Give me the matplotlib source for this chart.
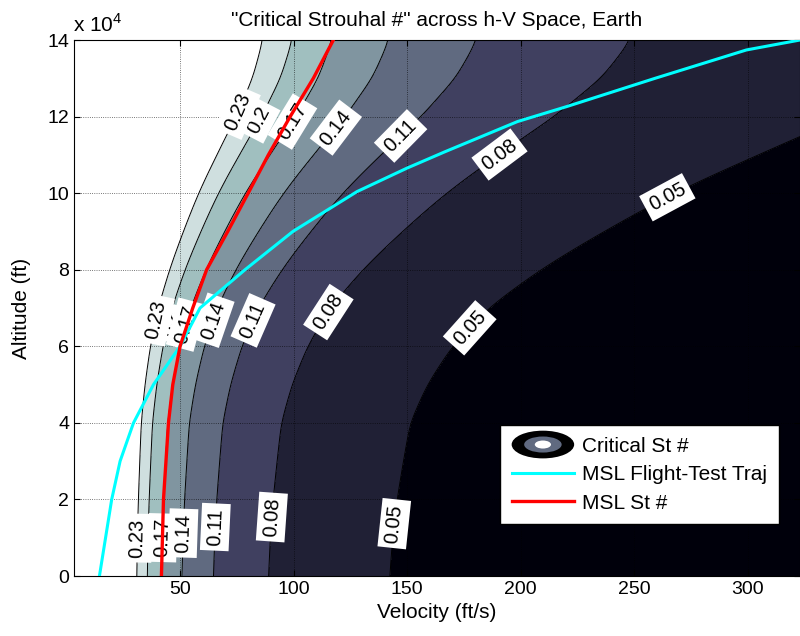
import numpy as np
import matplotlib
matplotlib.use('Agg')
import matplotlib.pyplot as plt
from matplotlib.patches import Ellipse
from matplotlib.legend_handler import HandlerBase
from matplotlib.lines import Line2D

plt.rcParams['font.family'] = ['Liberation Sans', 'DejaVu Sans']
plt.rcParams['mathtext.fontset'] = 'custom'
plt.rcParams['mathtext.rm'] = 'Liberation Sans'

# Critical St # scales as k(h) / V; k read at each altitude
alt_knots = [0, 10000, 20000, 30000, 40000, 50000, 60000, 70000, 80000,
             90000, 100000, 110000, 120000, 130000, 140000]
st_times_v = [7.12, 7.18, 7.28, 7.42, 7.57, 7.95, 8.5, 9.3, 10.45,
              11.85, 13.4, 15.25, 17.2, 18.85, 19.9]

st_levels = [0.05, 0.08, 0.11, 0.14, 0.17, 0.20, 0.23]
# bone colormap, 8 bands
band_colors = ['#00000b', '#202035', '#404060', '#606a80', '#8095a0',
               '#a0bfbf', '#cfdfdf', '#ffffff']

# MSL flight-test trajectory (velocity ft/s, altitude ft)
traj_v = [14.5, 19.9, 23.6, 29.5, 38.3, 50.0, 58.8, 78.6, 99.7, 127.9, 149.8,
          166.6, 198.6, 220.2, 259.2, 299.4, 323.0, 340.0]
traj_h = [0, 20000, 30000, 40000, 50000, 60000, 70000, 80000, 90000, 100400,
          106500, 110800, 118700, 122600, 130000, 137400, 140000, 142500]

# MSL Strouhal number curve
msl_v = [41.8, 42.7, 44.9, 46.8, 50.0, 55.6, 61.7, 71.0, 80.0, 88.9, 98.5,
         108.7, 117.5]
msl_h = [0, 20000, 40000, 50000, 60000, 70000, 80000, 90000, 100000, 110000,
         120000, 130000, 140000]

# contour label anchor points (velocity, altitude)
label_pos = [
    (76.5, 121000), (39.7, 66900), (31.7, 9900),      # 0.23
    (86.2, 118600), (46.0, 66100), (37.0, 9400),      # 0.2
    (100.6, 118300), (53.1, 65600), (42.0, 10000),    # 0.17
    (118.2, 117300), (64.1, 66900), (51.5, 11200),    # 0.14
    (149.0, 113900), (81.6, 66900), (65.4, 12800),    # 0.11
    (190.8, 110000), (116.0, 68700), (90.4, 15400),   # 0.08
    (264.8, 98700), (178.6, 64300), (142.4, 13800),   # 0.05
]

vv = np.linspace(2, 345, 500)
hh = np.linspace(0, 142000, 300)

# k(h) on the fine altitude grid, lightly smoothed to round off the knots
log_k = np.interp(hh, alt_knots, np.log(st_times_v))
kern = np.exp(-0.5 * (np.arange(-15, 16) / 5.0) ** 2)
kern /= kern.sum()
log_k = np.convolve(np.pad(log_k, 15, mode='reflect', reflect_type='odd'),
                    kern, mode='valid')

V, H = np.meshgrid(vv, hh)
ST = np.exp(log_k)[:, None] / V

fig = plt.figure(figsize=(8, 6.36), dpi=100)
ax = fig.add_axes([0.0925, 0.0943, 0.9075, 0.8428])

fill_levels = [0] + st_levels + [100]
ax.contourf(V, H, ST, levels=fill_levels, colors=band_colors, zorder=1)
cs = ax.contour(V, H, ST, levels=st_levels, colors='k', linewidths=0.7, zorder=2)

labels = ax.clabel(cs, manual=label_pos, inline=False, fmt='%g', fontsize=14.5)
for t in labels:
    t.set_bbox(dict(facecolor='white', edgecolor='none', pad=3.5))
    # the 0.2 boxes sit underneath their neighbours
    t.set_zorder(2.55 if t.get_text() == '0.2' else 2.6)

traj_line, = ax.plot(traj_v, traj_h, color='cyan', lw=2.2, zorder=3)
msl_line, = ax.plot(msl_v, msl_h, color='red', lw=2.4, zorder=3.1)

ax.set_xlim(3.3, 323)
ax.set_ylim(0, 140000)
ax.set_xticks([50, 100, 150, 200, 250, 300])
ax.set_yticks(np.arange(0, 140001, 20000))
ax.set_yticklabels([str(int(y / 10000)) for y in np.arange(0, 140001, 20000)])
ax.tick_params(direction='in', top=True, right=True, labelsize=14, length=4)
ax.set_axisbelow('line')
ax.grid(True, color='k', linestyle=':', linewidth=0.6, alpha=0.7)
ax.text(-0.002, 1.008, r'x 10$^{4}$', transform=ax.transAxes, fontsize=15,
        va='bottom', ha='left')

ax.set_title('"Critical Strouhal #" across h-V Space, Earth', fontsize=15,
             pad=10)
ax.set_xlabel('Velocity (ft/s)', fontsize=15, labelpad=4)
ax.set_ylabel('Altitude (ft)', fontsize=15, labelpad=12)


class ContourIcon(HandlerBase):
    def create_artists(self, legend, orig_handle, xdescent, ydescent,
                       width, height, fontsize, trans):
        cx, cy = width / 2 - xdescent, height / 2 - ydescent
        outer = Ellipse((cx, cy), width, height * 1.9, facecolor='black',
                        edgecolor='none', transform=trans)
        mid = Ellipse((cx, cy), width * 0.6, height * 1.1,
                      facecolor='#606a80', edgecolor='none', transform=trans)
        inner = Ellipse((cx, cy), width * 0.26, height * 0.55,
                        facecolor='white', edgecolor='none', transform=trans)
        return [outer, mid, inner]


crit_handle = Line2D([], [])
leg = ax.legend([crit_handle, traj_line, msl_line],
                ['Critical St #', 'MSL Flight-Test Traj', 'MSL St #'],
                handler_map={crit_handle: ContourIcon()},
                loc='lower right', bbox_to_anchor=(0.971, 0.097),
                borderaxespad=0, fontsize=15, handlelength=3.0,
                fancybox=False, framealpha=1, edgecolor='black',
                labelspacing=0.45, borderpad=0.55, handletextpad=0.4)
leg.get_frame().set_linewidth(1.0)
leg.set_zorder(5)

fig.savefig('out.png', dpi=100)
